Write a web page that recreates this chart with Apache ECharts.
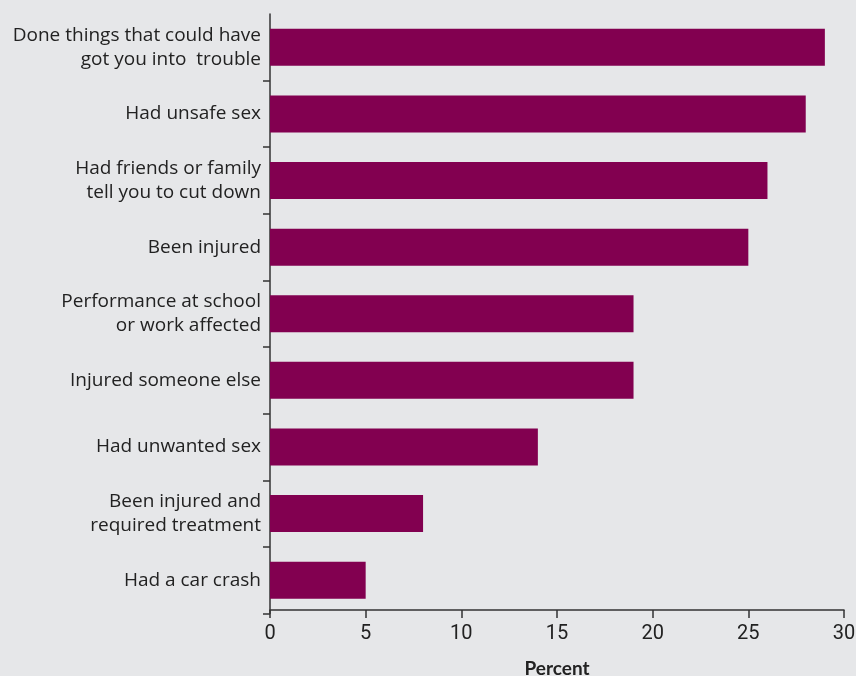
<!DOCTYPE html>
<html>
<head>
<meta charset="utf-8">
<script src="https://cdn.jsdelivr.net/npm/echarts@6/dist/echarts.min.js"></script>
<style>
  html, body { margin: 0; padding: 0; background: #e6e7e9; }
  #chart { width: 856px; height: 676px; }
</style>
</head>
<body>
<div id="chart"></div>
<script>
// consequences, top to bottom
const categories = [
  'Done things that could have\ngot you into  trouble',
  'Had unsafe sex',
  'Had friends or family\ntell you to cut down',
  'Been injured',
  'Performance at school\nor work affected',
  'Injured someone else',
  'Had unwanted sex',
  'Been injured and\nrequired treatment',
  'Had a car crash',
];
const percents = [29, 28, 26, 25, 19, 19, 14, 8, 5];
const xTicks = [0, 5, 10, 15, 20, 25, 30];

const chart = echarts.init(document.getElementById('chart'));

chart.setOption({
  backgroundColor: '#e6e7e9',
  animation: false,
  grid: { left: 270, right: 12, top: 14, bottom: 62.5, outerBoundsMode: 'none' },
  xAxis: {
    type: 'value',
    min: xTicks[0],
    max: xTicks[xTicks.length - 1],
    interval: 5,
    offset: -3.5,
    name: 'Percent',
    nameLocation: 'middle',
    nameGap: 49,
    nameTextStyle: { fontFamily: 'Lato', fontWeight: 'bold', fontSize: 19, color: '#222' },
    axisLine: { show: true, lineStyle: { color: '#333', width: 1.5 } },
    axisTick: { show: true, length: 8, lineStyle: { color: '#333', width: 1.5 } },
    axisLabel: { color: '#222', fontSize: 20, fontFamily: 'Liberation Sans Narrow, Roboto, sans-serif', margin: 14 },
    splitLine: { show: false },
  },
  yAxis: {
    type: 'category',
    inverse: true,
    data: categories,
    axisLine: { show: true, lineStyle: { color: '#333', width: 1.5 } },
    axisTick: {
      show: true,
      length: 7,
      interval: (i) => i !== 0,
      lineStyle: { color: '#333', width: 1.5 },
    },
    axisLabel: {
      color: '#222',
      fontSize: 19,
      fontFamily: 'Open Sans',
      lineHeight: 24,
      margin: 9,
      align: 'right',
    },
  },
  series: [
    {
      type: 'bar',
      data: percents,
      barWidth: 37,
      itemStyle: { color: '#820050' },
    },
  ],
});
</script>
</body>
</html>
